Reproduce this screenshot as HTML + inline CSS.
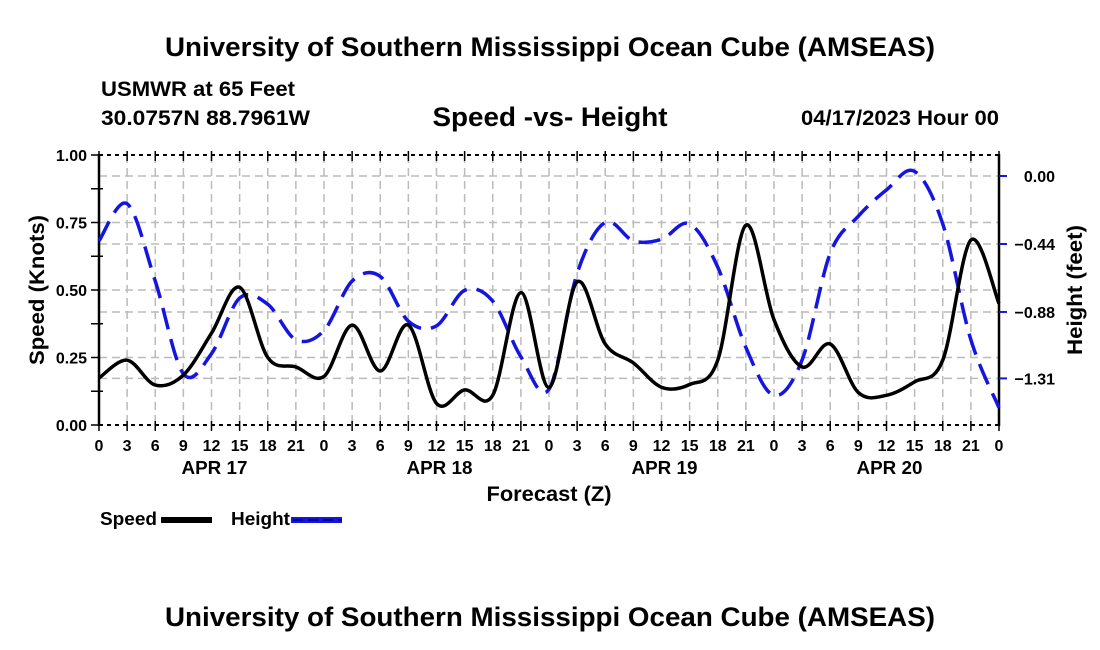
<!DOCTYPE html>
<html><head><meta charset="utf-8"><style>
body{margin:0;background:#fff}
svg{display:block;font-family:"Liberation Sans",Arial,sans-serif;font-weight:bold}
</style></head><body>
<svg id="c" width="1100" height="650" viewBox="0 0 1100 650">
<text x="550" y="56" font-size="27" text-anchor="middle" textLength="770" lengthAdjust="spacingAndGlyphs">University of Southern Mississippi Ocean Cube (AMSEAS)</text>
<text x="101" y="96" font-size="21" textLength="194" lengthAdjust="spacingAndGlyphs">USMWR at 65 Feet</text>
<text x="101" y="125" font-size="21" textLength="209" lengthAdjust="spacingAndGlyphs">30.0757N  88.7961W</text>
<text x="550" y="126" font-size="27" text-anchor="middle" textLength="235" lengthAdjust="spacingAndGlyphs">Speed -vs- Height</text>
<text x="999" y="125" font-size="21" text-anchor="end" textLength="198" lengthAdjust="spacingAndGlyphs">04/17/2023 Hour 00</text>
<g id="grid"></g>
<g id="axes"></g>
<g id="series"></g>
<text x="44" y="290" font-size="21" text-anchor="middle" transform="rotate(-90 44 290)" textLength="150" lengthAdjust="spacingAndGlyphs">Speed (Knots)</text>
<text x="1082" y="290" font-size="21" text-anchor="middle" transform="rotate(-90 1082 290)" textLength="130" lengthAdjust="spacingAndGlyphs">Height (feet)</text>
<text x="549" y="501" font-size="21" text-anchor="middle" textLength="125" lengthAdjust="spacingAndGlyphs">Forecast (Z)</text>
<g>
<text x="100" y="525" font-size="18" textLength="57" lengthAdjust="spacingAndGlyphs">Speed</text>
<rect x="161" y="517" width="51" height="6" fill="#000"/>
<text x="231" y="525" font-size="18" textLength="59" lengthAdjust="spacingAndGlyphs">Height</text>
<rect x="291" y="517" width="51" height="6" fill="#1515e0"/>
<line x1="293" y1="520" x2="342" y2="520" stroke="#000080" stroke-width="1.5" stroke-dasharray="10 5"/>
</g>
<text x="550" y="626" font-size="27" text-anchor="middle" textLength="770" lengthAdjust="spacingAndGlyphs">University of Southern Mississippi Ocean Cube (AMSEAS)</text>
</svg>
<script>
const hours=[0,3,6,9,12,15,18,21,24,27,30,33,36,39,42,45,48,51,54,57,60,63,66,69,72,75,78,81,84,87,90,93,96];
const speed=[0.174,0.24,0.148,0.185,0.34,0.51,0.25,0.215,0.18,0.37,0.20,0.37,0.08,0.13,0.11,0.49,0.14,0.53,0.30,0.23,0.14,0.15,0.24,0.74,0.39,0.215,0.30,0.12,0.11,0.16,0.24,0.685,0.45];
const height=[-0.42,-0.18,-0.68,-1.28,-1.15,-0.79,-0.83,-1.06,-1.0,-0.68,-0.65,-0.94,-0.97,-0.74,-0.81,-1.17,-1.38,-0.63,-0.30,-0.42,-0.41,-0.31,-0.59,-1.11,-1.42,-1.19,-0.50,-0.26,-0.09,0.03,-0.31,-1.06,-1.50];
const xTickLabels=["0","3","6","9","12","15","18","21"];
const dayLabels=["APR 17","APR 18","APR 19","APR 20"];
const leftTicks=[0,0.25,0.5,0.75,1.0];
const rightTicks=[0,-0.44,-0.88,-1.31];
const X0=99,X1=999,Y0=425,Y1=155;
const xs=h=>X0+(X1-X0)*h/96;
const ys=v=>Y0-(Y0-Y1)*v;
const yh=h=>176-h*154.5;
const NS="http://www.w3.org/2000/svg";
function mk(t,a,p){const e=document.createElementNS(NS,t);for(const k in a)e.setAttribute(k,a[k]);p.appendChild(e);return e;}
const grid=document.getElementById('grid'),axes=document.getElementById('axes'),ser=document.getElementById('series');
for(let h=3;h<96;h+=3){const l=mk('line',{x1:xs(h),x2:xs(h),y1:Y1,y2:Y0,stroke:'#bbb','stroke-width':1.5,'stroke-dasharray':'8 5'},grid);

}
leftTicks.slice(1,4).forEach(v=>{const l=mk('line',{x1:X0,x2:X1,y1:ys(v),y2:ys(v),stroke:'#bbb','stroke-width':1.5,'stroke-dasharray':'8 5'},grid);

});
rightTicks.forEach(v=>{const l=mk('line',{x1:X0,x2:X1,y1:yh(v),y2:yh(v),stroke:'#bbb','stroke-width':1.5,'stroke-dasharray':'8 5'},grid);

});
mk('line',{x1:X0,x2:X1,y1:Y1,y2:Y1,stroke:'#000','stroke-width':2,'stroke-dasharray':'4 4'},axes);
mk('line',{x1:X0,x2:X1,y1:Y0,y2:Y0,stroke:'#000','stroke-width':2,'stroke-dasharray':'4 4'},axes);
mk('line',{x1:X0,x2:X0,y1:Y1-1,y2:Y0+1,stroke:'#000','stroke-width':2.5},axes);
mk('line',{x1:X1,x2:X1,y1:Y1-1,y2:Y0+1,stroke:'#000','stroke-width':2.5},axes);
for(let h=0;h<=96;h+=3){
mk('line',{x1:xs(h),x2:xs(h),y1:Y0-4,y2:Y0+6,stroke:'#000','stroke-width':1.5},axes);
mk('line',{x1:xs(h),x2:xs(h),y1:Y1-4,y2:Y1+6,stroke:'#000','stroke-width':1.5},axes);
const t=mk('text',{x:xs(h),y:451,'font-size':16,'text-anchor':'middle'},axes);t.textContent=xTickLabels[(h/3)%8];

}
dayLabels.forEach((d,i)=>{const t=mk('text',{x:xs(12+24*i)+3,y:474,'font-size':18,'text-anchor':'middle',textLength:66,lengthAdjust:'spacingAndGlyphs'},axes);t.textContent=d;

});
for(let v=0;v<=1.0001;v+=0.125){mk('line',{x1:X0-8,x2:X0+(Math.abs(v*4-Math.round(v*4))<0.01?0:4),y1:ys(v),y2:ys(v),stroke:'#000','stroke-width':1.5},axes);}
leftTicks.forEach(v=>{const t=mk('text',{x:87,y:ys(v)+6,'font-size':16,'text-anchor':'end'},axes);t.textContent=v.toFixed(2);

});
rightTicks.forEach(v=>{mk('line',{x1:X1,x2:X1+8,y1:yh(v),y2:yh(v),stroke:'#1515e0','stroke-width':2},axes);
const t=mk('text',{x:1055,y:yh(v)+6,'font-size':16,'text-anchor':'end'},axes);t.textContent=(v===0?'0.00':'\u2212'+Math.abs(v).toFixed(2));

});
function path(pts){let d='M'+pts[0][0]+','+pts[0][1];for(let i=0;i<pts.length-1;i++){const p0=pts[Math.max(0,i-1)],p1=pts[i],p2=pts[i+1],p3=pts[Math.min(pts.length-1,i+2)];
d+=' C'+(p1[0]+(p2[0]-p0[0])/6)+','+(p1[1]+(p2[1]-p0[1])/6)+' '+(p2[0]-(p3[0]-p1[0])/6)+','+(p2[1]-(p3[1]-p1[1])/6)+' '+p2[0]+','+p2[1];}return d;}
const hp=mk('path',{d:path(hours.map((h,i)=>[xs(h),yh(height[i])])),fill:'none',stroke:'#1515e0','stroke-width':3.5,'stroke-dasharray':'22 10'},ser);


const sp=mk('path',{d:path(hours.map((h,i)=>[xs(h),ys(speed[i])])),fill:'none',stroke:'#000','stroke-width':3.5},ser);


</script>
</body></html>
